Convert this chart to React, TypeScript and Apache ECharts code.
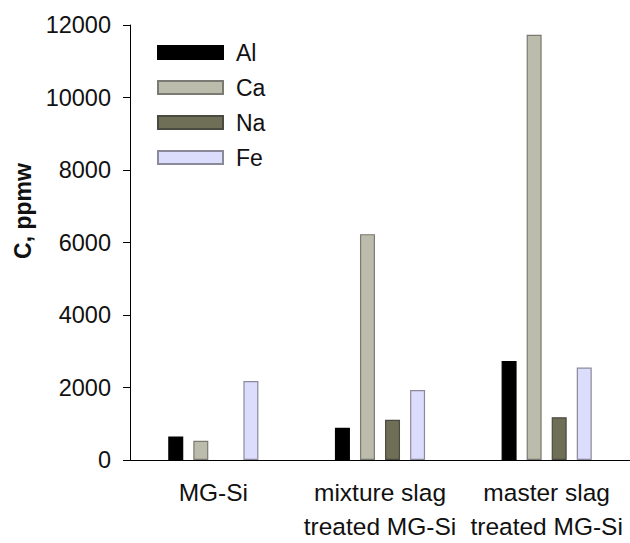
import React, { useEffect, useRef } from "react";
import * as echarts from "echarts";

const categories = ["MG-Si", "mixture slag\ntreated MG-Si", "master slag\ntreated MG-Si"];
const seriesNames = ["Al", "Ca", "Na", "Fe"];
const alValues = [650, 890, 2730];
const caValues = [530, 6230, 11730];
const naValues = [0, 1110, 1180];
const feValues = [2180, 1930, 2550];
const yTicks = [0, 2000, 4000, 6000, 8000, 10000, 12000];

const colors = ["#000000", "#bcbcac", "#6f6f57", "#dcdcfc"];
const borders = ["#000000", "#7a7a72", "#4a4a40", "#8a8a9a"];

export default function App() {
  const ref = useRef<HTMLDivElement>(null);
  useEffect(() => {
    if (!ref.current) return;
    const chart = echarts.init(ref.current, undefined, { renderer: "svg" });
    const values = [alValues, caValues, naValues, feValues];
    const font = "Liberation Sans, Arial, sans-serif";
    chart.setOption({
      animation: false,
      backgroundColor: "#ffffff",
      textStyle: { fontFamily: font },
      grid: { left: 130, top: 25, right: 0, bottom: 78 },
      legend: {
        orient: "vertical",
        left: 157,
        top: 41,
        padding: 0,
        itemWidth: 65,
        itemHeight: 13,
        itemGap: 12,
        icon: "rect",
        data: seriesNames,
        textStyle: { fontSize: 23, color: "#111", fontFamily: font, lineHeight: 22, padding: [0, 0, 0, 8] },
      },
      graphic: [
        {
          type: "text",
          x: 23,
          y: 211,
          rotation: Math.PI / 2,
          style: {
            text: "C, ppmw",
            fontSize: 23,
            fontWeight: "bold",
            fontFamily: font,
            fill: "#111",
            textAlign: "center",
            textVerticalAlign: "middle",
          },
        },
      ],
      xAxis: {
        type: "category",
        data: categories,
        axisLine: { lineStyle: { color: "#000", width: 1 } },
        axisTick: { alignWithLabel: true, length: 6, lineStyle: { color: "#000" } },
        axisLabel: { fontSize: 24.5, color: "#111", lineHeight: 34, margin: 15, fontFamily: font, interval: 0 },
      },
      yAxis: {
        type: "value",
        min: 0,
        max: 12000,
        interval: 2000,
        axisLine: { show: true, lineStyle: { color: "#000", width: 1 } },
        axisTick: { show: true, length: 7, lineStyle: { color: "#000" } },
        splitLine: { show: false },
        axisLabel: {
          fontSize: 23.5,
          color: "#111",
          margin: 19,
          fontFamily: font,
          formatter: (v: number) => (yTicks.includes(v) ? String(v) : ""),
        },
      },
      series: seriesNames.map((name, i) => ({
        name,
        type: "bar",
        data: values[i].map((v) => ({
          value: v,
          itemStyle: { borderWidth: v === 0 ? 0 : 1.2 },
        })),
        barWidth: 15,
        barGap: "67%",
        itemStyle: { color: colors[i], borderColor: borders[i], borderWidth: 1.2 },
      })),
    });
    return () => chart.dispose();
  }, []);
  return (
    <div
      ref={ref}
      style={{ position: "fixed", left: 0, top: 0, width: 630, height: 543 }}
    />
  );
}
